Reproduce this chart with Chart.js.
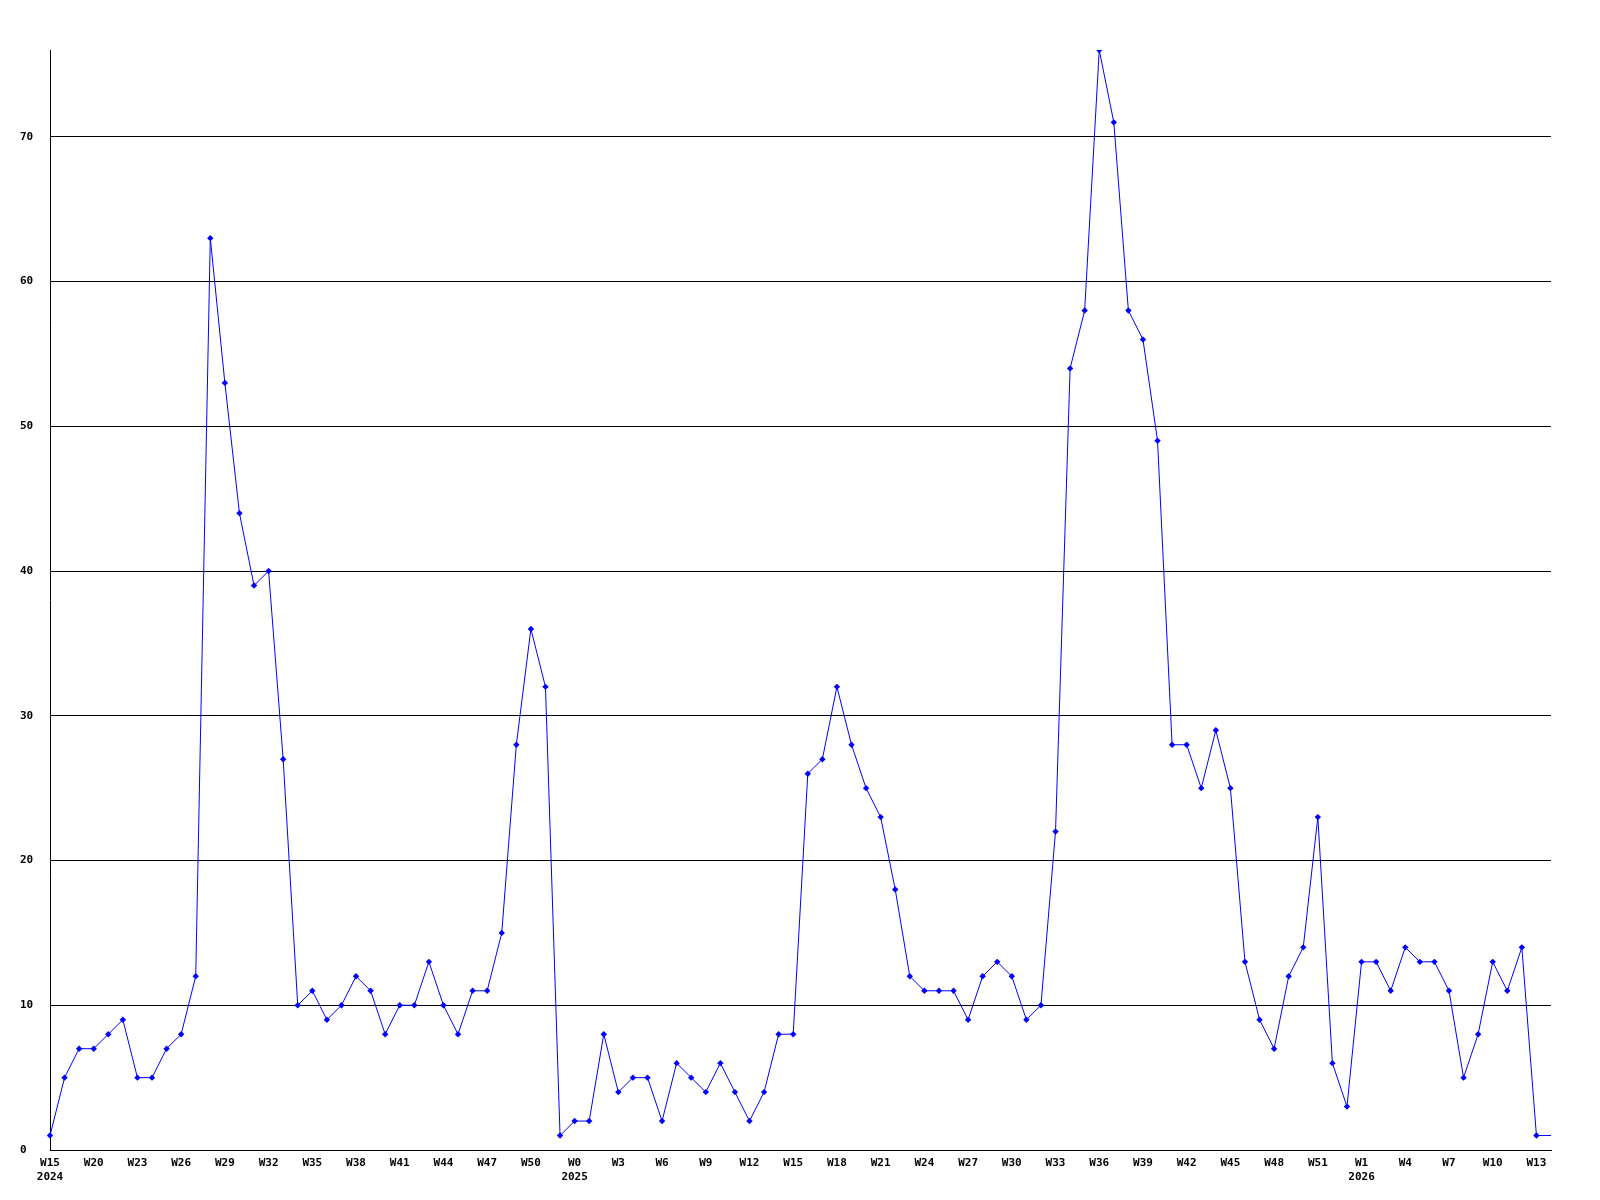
<!DOCTYPE html>
<html>
<head>
<meta charset="utf-8">
<script src="https://cdn.jsdelivr.net/npm/chart.js@4/dist/chart.umd.min.js"></script>
<style>
  html, body { margin: 0; padding: 0; background: #ffffff; }
  #wrap { width: 1600px; height: 1200px; }
</style>
</head>
<body>
<div id="wrap"><canvas id="c" width="1600" height="1200"></canvas></div>
<script>
// Weekly values, one per week, starting 2024 W15
const values = [
  1, 5, 7, 7, 8, 9, 5, 5, 7, 8,
  12, 63, 53, 44, 39, 40, 27, 10, 11, 9,
  10, 12, 11, 8, 10, 10, 13, 10, 8, 11,
  11, 15, 28, 36, 32, 1, 2, 2, 8, 4,
  5, 5, 2, 6, 5, 4, 6, 4, 2, 4,
  8, 8, 26, 27, 32, 28, 25, 23, 18, 12,
  11, 11, 11, 9, 12, 13, 12, 9, 10, 22,
  54, 58, 76, 71, 58, 56, 49, 28, 28, 25,
  29, 25, 13, 9, 7, 12, 14, 23, 6, 3,
  13, 13, 11, 14, 13, 13, 11, 5, 8, 13,
  11, 14, 1, 1
];

// Tick labels on the x axis: position (point index) and text
const tickPositions = [0, 3, 6, 9, 12, 15, 18, 21, 24, 27, 30, 33,
                       36, 39, 42, 45, 48, 51, 54, 57, 60, 63, 66, 69, 72, 75, 78, 81, 84, 87,
                       90, 93, 96, 99, 102];
const tickWeeks = ["W15", "W20", "W23", "W26", "W29", "W32", "W35", "W38", "W41", "W44", "W47", "W50",
                   "W0", "W3", "W6", "W9", "W12", "W15", "W18", "W21", "W24", "W27", "W30", "W33", "W36", "W39", "W42", "W45", "W48", "W51",
                   "W1", "W4", "W7", "W10", "W13"];
const yearPositions = [0, 36, 90];
const yearLabels = ["2024", "2025", "2026"];

// Y axis
const yMax = 76;
const yStep = 10;

const categories = values.map((v, i) => String(i));

const FONT = { family: "'DejaVu Sans Mono', monospace", size: 11, weight: 'bold', lineHeight: 1.3 };

new Chart(document.getElementById('c'), {
  type: 'line',
  data: {
    labels: categories,
    datasets: [{
      data: values,
      borderColor: '#0000ff',
      backgroundColor: '#0000ff',
      borderWidth: 1,
      tension: 0,
      fill: false,
      pointStyle: 'rectRot',
      pointRadius: (ctx) => (ctx.dataIndex === values.length - 1 ? 0 : 3.2),
      pointHoverRadius: 0,
      pointBorderWidth: 0,
      pointBackgroundColor: '#0000ff'
    }]
  },
  options: {
    responsive: false,
    animation: false,
    devicePixelRatio: 1,
    layout: { padding: { left: 20, top: 50, right: 49, bottom: 0 } },
    plugins: { legend: { display: false }, tooltip: { enabled: false } },
    scales: {
      x: {
        type: 'category',
        offset: false,
        grid: { display: false, drawTicks: false },
        border: { display: true, color: '#000000', width: 1 },
        ticks: {
          autoSkip: false,
          maxRotation: 0,
          minRotation: 0,
          padding: 6,
          color: '#000000',
          font: FONT,
          callback: function (value, index) {
            const k = tickPositions.indexOf(index);
            if (k < 0) return '';
            const y = yearPositions.indexOf(index);
            return y >= 0 ? [tickWeeks[k], yearLabels[y]] : tickWeeks[k];
          }
        },
        afterFit: (scale) => { scale.height = 50; }
      },
      y: {
        min: 0,
        max: yMax,
        grid: { color: '#000000', lineWidth: 1, drawTicks: false },
        border: { display: true, color: '#000000', width: 1 },
        ticks: {
          stepSize: yStep,
          includeBounds: false,
          crossAlign: 'far',
          padding: 0,
          color: '#000000',
          font: FONT
        },
        afterFit: (scale) => { scale.width = 30; }
      }
    }
  }
});
</script>
</body>
</html>
